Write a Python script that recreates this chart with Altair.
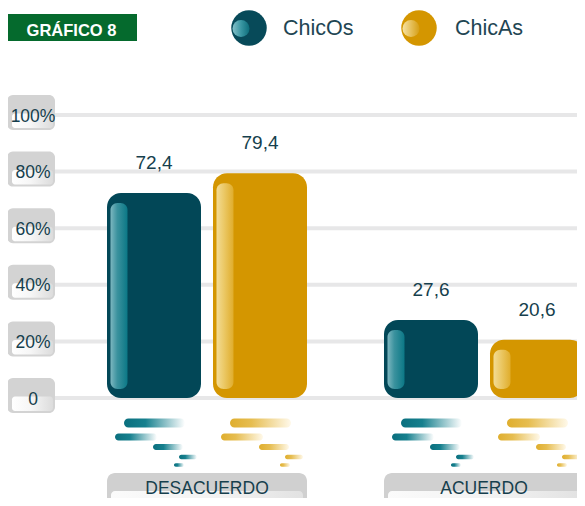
import altair as alt
import pandas as pd

# ---------------- data ----------------
categories = ["DESACUERDO", "ACUERDO"]
series = ["ChicOs", "ChicAs"]
chicos = [72.4, 27.6]
chicas = [79.4, 20.6]
chicos_labels = ["72,4", "27,6"]
chicas_labels = ["79,4", "20,6"]
y_ticks = [0, 20, 40, 60, 80, 100]
y_tick_labels = ["0", "20%", "40%", "60%", "80%", "100%"]
title_text = ["GRÁFICO 8"]

rows = []
for i, c in enumerate(categories):
    rows.append({"cat": c, "serie": series[0], "v": chicos[i], "lbl": chicos_labels[i]})
    rows.append({"cat": c, "serie": series[1], "v": chicas[i], "lbl": chicas_labels[i]})
df = pd.DataFrame(rows)
ticks_df = pd.DataFrame({"t": y_ticks, "lbl": y_tick_labels})
cat_df = pd.DataFrame({"cat": categories})
title_df = pd.DataFrame({"txt": title_text})
leg_df = pd.DataFrame({"serie": series})

# ---------------- style ----------------
FONT = "Liberation Sans"
TXT = "#163f4d"
TEAL = "#024757"
GOLD = "#d49600"
GREEN = "#056a2d"


def hgrad(stops):
    return {"gradient": "linear", "x1": 0, "x2": 1, "y1": 0, "y2": 0,
            "stops": [{"offset": o, "color": c} for o, c in stops]}


Y = alt.Scale(domain=[0, 100], range=[390, 107])
X = alt.Scale(domain=categories, range=[99, 576], paddingInner=0.278, paddingOuter=0)
XO = alt.Scale(domain=series, paddingInner=0.1132, paddingOuter=0)
COL = alt.Scale(domain=series, range=[TEAL, GOLD])


def XC():
    return alt.X("cat:N", scale=X, axis=None)


def YV(f="v:Q"):
    return alt.Y(f, scale=Y, axis=None)


layers = []

# title box
layers.append(alt.Chart(title_df).mark_rect(fill=GREEN).encode(
    x=alt.value(-2), x2=alt.value(129), y=alt.value(6), y2=alt.value(33)))
layers.append(alt.Chart(title_df).mark_text(
    font=FONT, fontSize=16.5, fontWeight="bold", color="white",
    align="center", baseline="alphabetic").encode(
    x=alt.value(63.5), y=alt.value(27.5), text="txt:N"))

# legend
leg_info = {
    "ChicOs": dict(cx=241, tx=275, hi=hgrad([(0, "#86c1c9"), (0.5, "#3a97a3"), (1, "#0c6d7a")]), col="#074a59"),
    "ChicAs": dict(cx=411, tx=447, hi=hgrad([(0, "#f6e2a4"), (0.5, "#e6c05a"), (1, "#d59e14")]), col=GOLD),
}
for s in series:
    info = leg_info[s]
    lb = alt.Chart(leg_df).transform_filter(alt.datum.serie == s)
    layers.append(lb.mark_point(shape="circle", filled=True, size=1260, opacity=1,
                                fill=info["col"], strokeWidth=0).encode(
        x=alt.value(info["cx"]), y=alt.value(20)))
    layers.append(lb.mark_point(shape="circle", filled=True, size=290, opacity=1,
                                fill=info["hi"], strokeWidth=0).encode(
        x=alt.value(info["cx"] - 8), y=alt.value(20.5)))
    layers.append(lb.mark_text(font=FONT, fontSize=21.5, color="#1f4653",
                               align="left", baseline="alphabetic").encode(
        x=alt.value(info["tx"]), y=alt.value(27), text="serie:N"))

# gridlines and y-axis label boxes
tb = alt.Chart(ticks_df).transform_calculate(t2="datum.t")
layers.append(tb.mark_rule(strokeWidth=4, color="#e7e7e8").encode(
    y=YV("t:Q"), x=alt.value(47), x2=alt.value(577)))
layers.append(tb.mark_rect(cornerRadius=6, fill="#d3d3d3", yOffset=-20, y2Offset=15).encode(
    x=alt.value(-1), x2=alt.value(47), y=YV("t:Q"), y2="t2:Q"))
layers.append(tb.mark_rect(cornerRadius=3, fill=hgrad([(0, "#ffffff"), (0.45, "#f6f6f6"), (1, "#dcdcdc")]),
                           yOffset=-1.5, y2Offset=13).encode(
    x=alt.value(4), x2=alt.value(45), y=YV("t:Q"), y2="t2:Q"))
layers.append(tb.mark_text(font=FONT, fontSize=17.5, color=TXT, align="center",
                           baseline="alphabetic", dy=6.5).encode(
    x=alt.value(25), y=YV("t:Q"), text="lbl:N"))

# bars
layers.append(alt.Chart(df).mark_bar(cornerRadius=14).encode(
    x=XC(),
    xOffset=alt.XOffset("serie:N", scale=XO),
    y=YV(),
    y2=alt.Y2(datum=0),
    color=alt.Color("serie:N", scale=COL, legend=None),
))

# bar highlights
hl = {
    "ChicOs": (-88, hgrad([(0, "#7db7c0"), (0.4, "#3b929e"), (1, "#0b7886")])),
    "ChicAs": (18, hgrad([(0, "#f3dc94"), (0.45, "#ebc865"), (1, "#e0ad2c")])),
}
for s in series:
    off, g = hl[s]
    layers.append(alt.Chart(df).transform_filter(alt.datum.serie == s).mark_bar(
        width=17, xOffset=off, yOffset=10, y2Offset=-9, cornerRadius=7, fill=g).encode(
        x=XC(), y=YV(), y2=alt.Y2(datum=0)))

# value labels
layers.append(alt.Chart(df).mark_text(font=FONT, fontSize=19, color=TXT, align="center",
                                      baseline="alphabetic", dy=-24).encode(
    x=XC(),
    xOffset=alt.XOffset("serie:N", scale=XO),
    y=YV(),
    text="lbl:N"))

# decorative reflections under the bars
ell = [(17, 78, 423, 9), (8, 50, 437, 7), (46, 76, 447, 6), (72, 90, 457, 4.5), (67, 77, 465, 3.5)]
refl = {
    "ChicOs": (-100, hgrad([(0, "#0a6f7e"), (0.35, "#16808e"), (1, "#ffffff")])),
    "ChicAs": (6, hgrad([(0, "#dfae2e"), (0.35, "#e6bd50"), (1, "#fff9ea")])),
}
for s in series:
    left, g = refl[s]
    for (l, r, yc, h) in ell:
        layers.append(alt.Chart(df).transform_filter(alt.datum.serie == s).mark_bar(
            width=r - l, xOffset=left + (l + r) / 2, cornerRadius=h / 2, fill=g).encode(
            x=XC(),
            y=alt.value(yc - 8 - h / 2), y2=alt.value(yc - 8 + h / 2)))

# category boxes
layers.append(alt.Chart(cat_df).mark_bar(cornerRadius=8, fill="#d0d0d0").encode(
    x=XC(), y=alt.value(465), y2=alt.value(520)))
layers.append(alt.Chart(cat_df).mark_bar(width=192, cornerRadius=4,
                                         fill=hgrad([(0, "#fbfbfb"), (0.6, "#f1f1f1"), (1, "#e2e2e2")])).encode(
    x=XC(), y=alt.value(483), y2=alt.value(520)))
layers.append(alt.Chart(cat_df).mark_text(font=FONT, fontSize=17.5, color=TXT, align="center",
                                          baseline="bottom").encode(
    x=XC(), y=alt.value(490), text="cat:N"))

chart = alt.layer(*layers).properties(
    width=569, height=490, autosize="none", padding=0
).configure_view(stroke=None)

chart.save("out.html", embed_options={"renderer": "svg", "actions": False})
